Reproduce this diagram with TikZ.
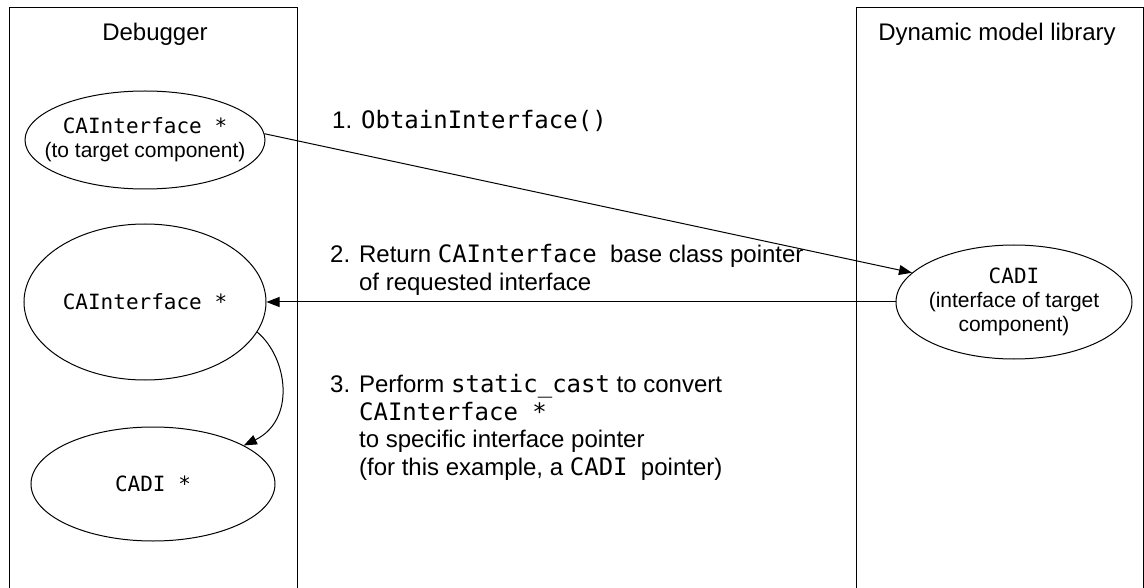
\documentclass[tikz,border=0pt]{standalone}
\usepackage{fontspec}
\setmainfont{Liberation Sans}
\newfontfamily\monof{DejaVu Sans Mono}
\usetikzlibrary{shapes.geometric,arrows.meta}
\newcommand{\mono}[1]{{\monof #1}}
\begin{document}
\begin{tikzpicture}[x=1pt,y=-1pt,
  lane/.style={draw=black,line width=1pt},
  title/.style={font=\fontsize{24}{28}\selectfont},
  oval/.style={ellipse,draw=black,line width=1pt,inner sep=0pt},
  ovaltext/.style={align=center,inner sep=0pt,font=\fontsize{21}{24}\selectfont},
  conn/.style={draw=black,line width=1pt,-{Triangle[length=13pt,width=10pt]}},
  note/.style={align=left,inner sep=0pt,font=\fontsize{24}{27.5}\selectfont}]
\useasboundingbox (0,0) rectangle (1144,588);
% lanes
\draw[lane] (9,588) -- (9,8) -- (297,8) -- (297,588);
\draw[lane] (856,588) -- (856,8) -- (1143,8) -- (1143,588);
\node[title] (t1) at (155,34) {Debugger};
\node[title] (t2) at (997,34) {Dynamic model library};
% ellipses
\node[oval,minimum width=240pt,minimum height=98pt] (e1) at (145,140) {};
\node[ovaltext] (e1t) at (e1.center) {\mono{CAInterface *}\\(to target component)};
\node[oval,minimum width=242pt,minimum height=156pt] (e2) at (145,302) {};
\node[ovaltext] (e2t) at (e2.center) {\mono{CAInterface *}};
\node[oval,minimum width=244pt,minimum height=114pt] (e3) at (153,484) {};
\node[ovaltext] (e3t) at (e3.center) {\mono{CADI *}};
\node[oval,minimum width=236pt,minimum height=114pt] (e4) at (1014,302) {};
\node[ovaltext] (e4t) at (e4.center) {\mono{CADI}\\(interface of target\\component)};
% connectors
\draw[conn] (e1.3) -- (e4.164);
\draw[conn] (e4.west) -- (e2.east);
\draw[conn] (e2.-15) .. controls (288,358) and (296,420) .. (e3.23);
% labels
\node[note,anchor=west] (l1) at (332,121) {1. \mono{ObtainInterface()}};
\node[note,anchor=north west] (l2) at (330,244.5)
  {2. Return \mono{CAInterface}\ \ base class pointer\\
   \phantom{2. }of requested interface};
\node[note,anchor=north west] (l3) at (330,374.5)
  {3. Perform \mono{static\_cast} to convert\\
   \phantom{3. }\mono{CAInterface *}\\
   \phantom{3. }to specific interface pointer\\
   \phantom{3. }(for this example, a \mono{CADI}\ \ pointer)};
\end{tikzpicture}
\end{document}
